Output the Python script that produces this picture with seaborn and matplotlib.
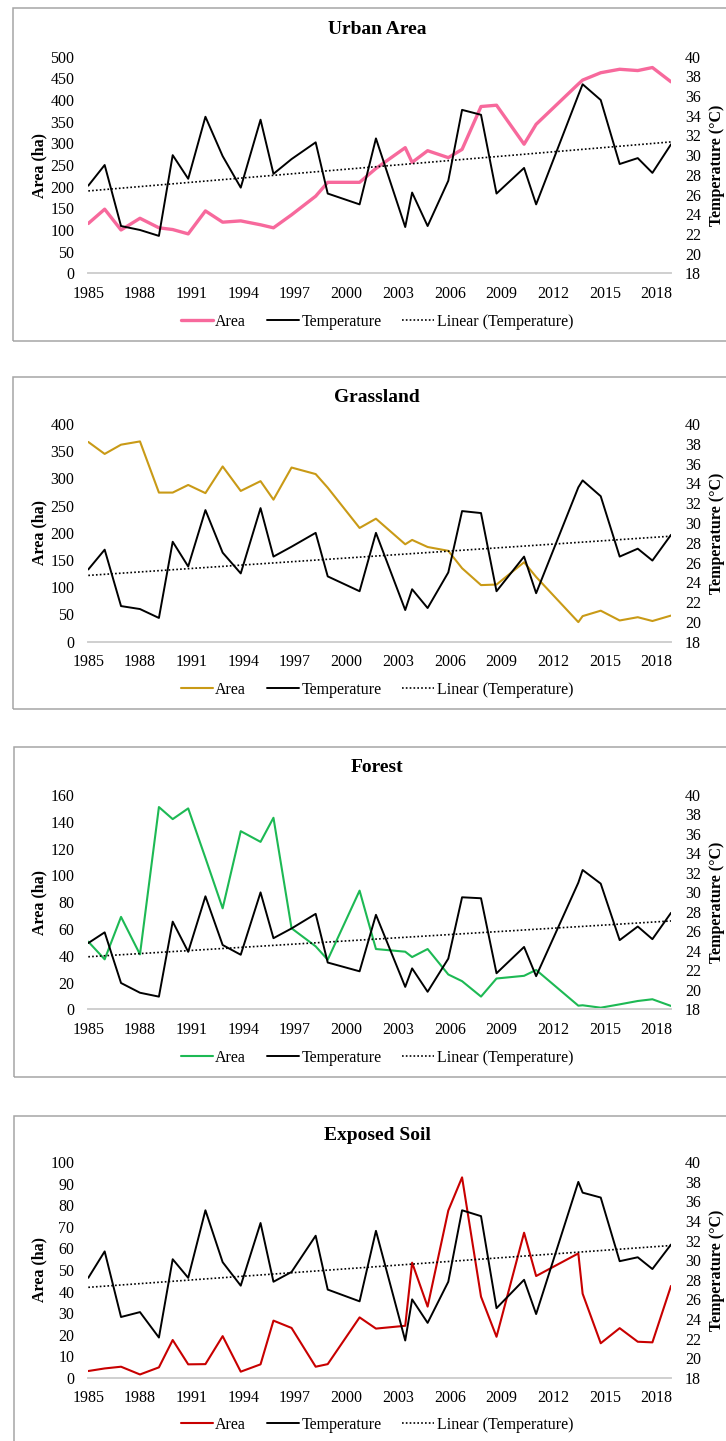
import numpy as np
import seaborn as sns
import matplotlib.pyplot as plt
from matplotlib.patches import Rectangle
from matplotlib.lines import Line2D

# acquisition dates (decimal years)
years = [1985.0, 1985.95, 1986.9, 1988.0, 1989.1, 1989.9, 1990.8, 1991.8, 1992.8, 1993.85,
         1995.0, 1995.75, 1996.8, 1998.2, 1998.9, 2000.75, 2001.7, 2003.4, 2003.8, 2004.7,
         2005.9, 2006.7, 2007.8, 2008.7, 2010.3, 2011.0, 2013.45, 2013.7, 2014.75, 2015.85,
         2016.9, 2017.75, 2018.83]

area_urban = [115, 148, 100, 127, 105, 101, 91, 144, 118, 121, 112, 105, 135, 178, 210, 210, 242,
              290, 256, 283, 267, 286, 385, 388, 298, 344, 437, 446, 463, 471, 468, 475, 442]
temp_urban = [26.9, 29.0, 22.8, 22.4, 21.8, 30.0, 27.6, 33.9, 29.9, 26.7, 33.6, 28.1, 29.6, 31.3,
              26.1, 25.0, 31.7, 22.7, 26.2, 22.8, 27.4, 34.6, 34.1, 26.1, 28.7, 25.0, 36.1, 37.2,
              35.6, 29.1, 29.7, 28.2, 31.1]

area_grass = [367, 345, 362, 368, 274, 274, 288, 273, 322, 277, 295, 261, 320, 308, 283, 209, 226,
              179, 187, 174, 167, 135, 104, 105, 146, 119, 36, 47, 57, 39, 45, 38, 48]
temp_grass = [25.3, 27.3, 21.6, 21.3, 20.4, 28.1, 25.6, 31.3, 27.0, 24.9, 31.5, 26.6, 27.6, 29.0,
              24.6, 23.1, 29.0, 21.2, 23.3, 21.4, 25.0, 31.2, 31.0, 23.1, 26.6, 22.9, 33.6, 34.3,
              32.7, 26.6, 27.4, 26.2, 28.8]

area_forest = [50.5, 37.3, 69, 41, 151, 142, 150, 113, 75.4, 133, 125, 143, 60.5, 47, 37, 88.6, 45,
               43, 39, 45, 26, 21, 9.5, 23, 25, 29.4, 2.7, 3, 1.2, 3.7, 6.2, 7.5, 2.5]
temp_forest = [24.8, 25.9, 20.7, 19.7, 19.3, 27.0, 23.9, 29.6, 24.6, 23.6, 30.0, 25.3, 26.3, 27.8,
               22.8, 21.9, 27.7, 20.3, 22.2, 19.8, 23.2, 29.5, 29.4, 21.7, 24.4, 21.4, 31.0, 32.3,
               30.9, 25.1, 26.5, 25.2, 27.9]

area_soil = [3.1, 4.3, 5.1, 1.5, 4.8, 17.5, 6.2, 6.3, 19.3, 2.8, 6.2, 26.5, 23.1, 5.1, 6.3, 28.0,
             22.8, 24.1, 53.4, 33, 77.6, 93, 37.6, 19, 67.3, 47.2, 57.7, 39, 16, 23, 16.7, 16.4, 42.6]
temp_soil = [28.2, 30.9, 24.2, 24.7, 22.1, 30.1, 28.2, 35.1, 29.8, 27.4, 33.8, 27.8, 28.8, 32.5,
             27.0, 25.8, 33.0, 21.8, 26.0, 23.6, 27.8, 35.1, 34.5, 25.1, 28.0, 24.5, 38.0, 36.9,
             36.4, 29.9, 30.3, 29.1, 31.6]

titles = ["Urban Area", "Grassland", "Forest", "Exposed Soil"]
areas = [area_urban, area_grass, area_forest, area_soil]
temps = [temp_urban, temp_grass, temp_forest, temp_soil]
colors = ["#f7699c", "#c99a16", "#1db954", "#c80000"]
area_lw = [2.4, 1.5, 1.5, 1.5]
area_max = [500, 400, 160, 100]
area_step = [50, 50, 20, 10]
xticks = list(range(1985, 2019, 3))

sns.set_theme(style="white")
plt.rcParams["font.family"] = ["Liberation Serif", "DejaVu Serif"]
plt.rcParams.update({"text.color": "black", "axes.labelcolor": "black",
                     "xtick.color": "black", "ytick.color": "black"})

W, H = 726, 1441
fig = plt.figure(figsize=(W / 100, H / 100), dpi=100)

# pixel layout: (box top, box bottom, axes top, axes bottom, title y, legend y)
layout = [(8, 341, 56.7, 273.3, 30, 321.7),
          (376.7, 709, 424, 641.7, 397, 690),
          (746.7, 1076.7, 795, 1009.3, 768, 1058),
          (1115.7, 1450, 1162.3, 1377.7, 1136, 1425)]
ax_l, ax_r = 88.3, 671

for i in range(4):
    bt, bb, at, ab, ty, ly = layout[i]
    box_l = 12.5 if i < 2 else 14
    fig.add_artist(Rectangle((box_l / W, 1 - bb / H), (740 - box_l) / W, (bb - bt) / H,
                             transform=fig.transFigure, fill=False, ec="#a6a6a6", lw=1.1))

    ax = fig.add_axes([ax_l / W, 1 - ab / H, (ax_r - ax_l) / W, (ab - at) / H])
    ax.set_facecolor("none")
    sns.lineplot(x=years, y=areas[i], ax=ax, color=colors[i], lw=area_lw[i], legend=False)
    ax.set_xlim(1985, 2018.83)
    ax.set_ylim(0, area_max[i])
    ax.set_yticks(np.arange(0, area_max[i] + 1, area_step[i]))
    ax.set_xticks(xticks)
    ax.set_xlabel("")
    ax.set_ylabel("Area (ha)", fontsize=11.5, fontweight="bold", va="center")
    ax.yaxis.set_label_coords((39 - ax_l) / (ax_r - ax_l), 0.5)

    ax2 = ax.twinx()
    sns.lineplot(x=years, y=temps[i], ax=ax2, color="black", lw=1.4, legend=False)
    coef = np.polyfit(years, temps[i], 1)
    xs = np.array([years[0], years[-1]])
    ax2.plot(xs, np.polyval(coef, xs), color="black", lw=1.2, ls=(0, (1, 1.3)))
    ax2.set_ylim(18, 40)
    ax2.set_yticks(range(18, 41, 2))
    ax2.set_ylabel("Temperature (°C)", fontsize=11.5, fontweight="bold", va="center", rotation=90)
    ax2.yaxis.set_label_coords((717 - ax_l) / (ax_r - ax_l), 0.5)

    for a in (ax, ax2):
        for s in ["top", "left", "right"]:
            a.spines[s].set_visible(False)
        a.spines["bottom"].set_color("#d0d0d0")
        a.grid(False)
    ax.tick_params(axis="x", length=4, width=0.8, color="#d0d0d0", labelcolor="black",
                   pad=5, labelsize=11.5)
    ax.tick_params(axis="y", length=0, pad=10, labelsize=11.5)
    ax2.tick_params(axis="y", length=0, pad=10, labelsize=11.5)

    fig.text(377 / W, 1 - ty / H, titles[i], ha="center", va="center",
             fontsize=14, fontweight="bold")

    handles = [Line2D([], [], color=colors[i], lw=area_lw[i]),
               Line2D([], [], color="black", lw=1.4),
               Line2D([], [], color="black", lw=1.2, ls=(0, (1, 1.3)))]
    fig.legend(handles, ["Area", "Temperature", "Linear (Temperature)"], loc="center",
               bbox_to_anchor=(377 / W, 1 - ly / H), ncol=3, frameon=False, fontsize=11.5,
               handlelength=2.0, handletextpad=0.15, columnspacing=1.3)

fig.savefig("out.png", dpi=100)
